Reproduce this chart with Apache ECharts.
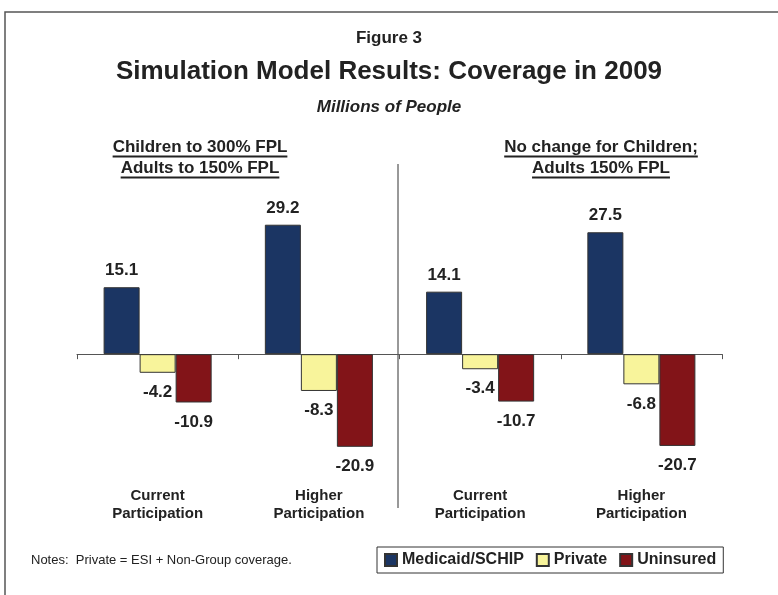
<!DOCTYPE html>
<html lang="en">
  <head>
    <meta charset="UTF-8" />
    <title>Simulation Model Results: Coverage in 2009</title>
    <script src="https://cdn.jsdelivr.net/npm/echarts@6/dist/echarts.min.js"></script>
    <style>
      html, body { margin: 0; padding: 0; background: #fff; }
      #chart { width: 778px; height: 595px; }
    </style>
  </head>
  <body>
    <div id="chart"></div>
    <script>
      // values (millions of people)
      var categories = ["Current\nParticipation", "Higher\nParticipation", "Current\nParticipation", "Higher\nParticipation"];
      var medicaid = [15.1, 29.2, 14.1, 27.5];
      var privateCov = [-4.2, -8.3, -3.4, -6.8];
      var uninsured = [-10.9, -20.9, -10.7, -20.7];
      var seriesNames = ["Medicaid/SCHIP", "Private", "Uninsured"];
      var seriesColors = ["#1b3563", "#f8f49b", "#821418"];
      var leftHeader = ["Children to 300% FPL", "Adults to 150% FPL"];
      var rightHeader = ["No change for Children;", "Adults 150% FPL"];

      var font = "'Liberation Sans', Arial, Helvetica, sans-serif";
      var textColor = "#222";

      var measure = document.createElement("canvas").getContext("2d");
      function textWidth(t, size) {
        measure.font = "bold " + size + "px " + font;
        return measure.measureText(t).width;
      }

      // underlined two-line header centred at cx
      function header(lines, cx) {
        var out = [];
        var ys = [147, 168];
        lines.forEach(function (t, i) {
          var w = textWidth(t, 17);
          out.push({
            type: "text",
            x: cx, y: ys[i],
            style: { text: t, font: "bold 17px " + font, fill: textColor, align: "center", verticalAlign: "middle" }
          });
          out.push({
            type: "line",
            shape: { x1: cx - w / 2, y1: ys[i] + 9.5, x2: cx + w / 2, y2: ys[i] + 9.5 },
            style: { stroke: textColor, lineWidth: 2 }
          });
        });
        return out;
      }

      function barData(vals) {
        return vals.map(function (v) {
          return { value: v, label: { position: v < 0 ? "bottom" : "top", distance: v < 0 ? 11 : 8 } };
        });
      }

      var chart = echarts.init(document.getElementById("chart"));

      var graphics = [
        { type: "polyline", shape: { points: [[5, 595], [5, 12], [778, 12]] }, style: { stroke: "#555", lineWidth: 1.5, fill: null } },
        { type: "text", x: 389, y: 38, style: { text: "Figure 3", font: "bold 17px " + font, fill: textColor, align: "center", verticalAlign: "middle" } },
        { type: "text", x: 389, y: 72, style: { text: "Simulation Model Results: Coverage in 2009", font: "bold 26px " + font, fill: textColor, align: "center", verticalAlign: "middle" } },
        { type: "text", x: 389, y: 107, style: { text: "Millions of People", font: "italic bold 17px " + font, fill: textColor, align: "center", verticalAlign: "middle" } },
        { type: "line", shape: { x1: 398, y1: 164, x2: 398, y2: 508 }, style: { stroke: "#333", lineWidth: 1 } },
        { type: "text", x: 31, y: 560, style: { text: "Notes:  Private = ESI + Non-Group coverage.", font: "13px " + font, fill: textColor, align: "left", verticalAlign: "middle" } }
      ].concat(header(leftHeader, 200)).concat(header(rightHeader, 601));

      var seriesValues = [medicaid, privateCov, uninsured];

      chart.setOption({
        animation: false,
        textStyle: { fontFamily: font },
        grid: { left: 77, right: 56, top: 199, height: 266 },
        legend: {
          data: seriesNames,
          left: 377,
          top: 547,
          padding: [5, 7, 5, 7],
          itemWidth: 12,
          itemHeight: 12,
          itemGap: 12,
          borderColor: "#333",
          borderWidth: 1,
          icon: "rect",
          textStyle: { fontSize: 16, fontWeight: "bold", color: textColor, fontFamily: font }
        },
        xAxis: [
          {
            type: "category",
            data: categories,
            axisLine: { onZero: true, lineStyle: { color: "#555", width: 1 } },
            axisTick: { show: true, length: 5, lineStyle: { color: "#555" } },
            axisLabel: { show: false }
          },
          {
            type: "category",
            data: categories,
            position: "bottom",
            axisLine: { show: false, onZero: false },
            axisTick: { show: false },
            axisLabel: { margin: 22, fontSize: 15, fontWeight: "bold", lineHeight: 18, color: textColor, fontFamily: font }
          }
        ],
        yAxis: { type: "value", min: -25, max: 35, show: false },
        graphic: graphics,
        series: seriesNames.map(function (name, i) {
          return {
            type: "bar",
            name: name,
            xAxisIndex: 0,
            data: barData(seriesValues[i]),
            barGap: "0%",
            barCategoryGap: "33%",
            itemStyle: { color: seriesColors[i], borderColor: "#333", borderWidth: 1 },
            label: {
              show: true,
              fontSize: 17,
              fontWeight: "bold",
              color: textColor,
              fontFamily: font,
              formatter: function (p) { return p.value.toFixed(1); }
            }
          };
        })
      });
    </script>
  </body>
</html>
